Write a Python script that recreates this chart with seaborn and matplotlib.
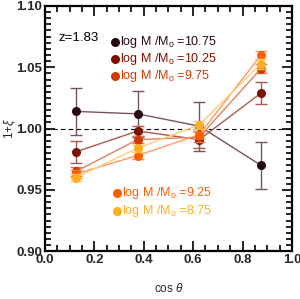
import numpy as np
import pandas as pd
import matplotlib
matplotlib.use("Agg")
import matplotlib.pyplot as plt
import seaborn as sns
from matplotlib.ticker import MultipleLocator, FormatStrFormatter

x = [0.125, 0.375, 0.625, 0.875]
labels = ["10.75", "10.25", "9.75", "9.25", "8.75"]
y_1075 = [1.014, 1.012, 1.002, 0.970]
e_1075 = [0.019, 0.019, 0.020, 0.019]
y_1025 = [0.981, 0.998, 0.991, 1.029]
e_1025 = [0.009, 0.004, 0.007, 0.009]
y_975 = [0.965, 0.991, 0.993, 1.049]
e_975 = [0.004, 0.003, 0.004, 0.004]
y_925 = [0.963, 0.978, 0.995, 1.060]
e_925 = [0.003, 0.003, 0.003, 0.003]
y_875 = [0.960, 0.984, 1.003, 1.053]
e_875 = [0.003, 0.003, 0.003, 0.004]
colors = ["#2a0810", "#7e1200", "#d13a00", "#ff5e00", "#ffad22"]
line_colors = ["#76545c", "#a85a4c", "#e08060", "#ff9a60", "#ffcc77"]

ys = [y_1075, y_1025, y_975, y_925, y_875]
es = [e_1075, e_1025, e_975, e_925, e_875]

rows = []
for lab, yv in zip(labels, ys):
    for xi, yi in zip(x, yv):
        rows.append({"cos": xi, "xi": yi, "mass": lab})
df = pd.DataFrame(rows)

sns.set_style("ticks")
plt.rcParams['font.family'] = ['Liberation Sans', 'DejaVu Sans']
plt.rcParams['mathtext.fontset'] = 'custom'
plt.rcParams['mathtext.rm'] = 'Liberation Sans'
plt.rcParams['mathtext.it'] = 'Liberation Sans:italic'

fig = plt.figure(figsize=(3.0, 2.99), dpi=100)
ax = fig.add_axes([0.15, 0.16, 0.823, 0.82])

ax.axhline(1.0, color="black", lw=0.8, ls=(0, (4, 3)), zorder=1)

for i, (lab, yv, ev) in enumerate(zip(labels, ys, es)):
    sub = df[df["mass"] == lab]
    ax.errorbar(x, yv, yerr=ev, fmt="none", ecolor=line_colors[i], elinewidth=1.0,
                capsize=4.5, capthick=1.0, zorder=2 + i)
    sns.lineplot(data=sub, x="cos", y="xi", ax=ax, color=line_colors[i], lw=1.0,
                 zorder=2 + i, legend=False)
    ax.plot(x, yv, "o", color=colors[i], ms=6.5, mec="none", zorder=2.5 + i)

ax.set_xlim(0, 1)
ax.set_ylim(0.90, 1.10)
ax.xaxis.set_major_locator(MultipleLocator(0.2))
ax.xaxis.set_minor_locator(MultipleLocator(0.05))
ax.yaxis.set_major_locator(MultipleLocator(0.05))
ax.yaxis.set_minor_locator(MultipleLocator(0.005))
ax.xaxis.set_major_formatter(FormatStrFormatter("%.1f"))
ax.yaxis.set_major_formatter(FormatStrFormatter("%.2f"))
ax.tick_params(which="both", direction="in", top=True, right=True, width=1.2, color="black")
ax.tick_params(which="major", length=7, labelsize=9.5, pad=2)
ax.tick_params(which="minor", length=4)
for lbl in ax.get_xticklabels() + ax.get_yticklabels():
    lbl.set_fontweight("bold")
for sp in ax.spines.values():
    sp.set_linewidth(1.6)
    sp.set_color("black")

ax.set_xlabel(r"cos $\theta$", fontsize=8.5)
ax.set_ylabel(r"1+$\xi$", fontsize=8.5)
ax.xaxis.set_label_coords(0.5, -0.125)
ax.yaxis.set_label_coords(-0.11, 0.5)

ax.text(0.053, 0.869, "z=1.83", transform=ax.transAxes, fontsize=9.5, color="black", va="center")

leg_pos = [(0.283, 0.853), (0.283, 0.784), (0.283, 0.714), (0.291, 0.237), (0.291, 0.163)]
for i, lab in enumerate(labels):
    px, py = leg_pos[i]
    ax.plot([px], [py], "o", color=colors[i], ms=6.5, mec="none", transform=ax.transAxes, clip_on=False)
    ax.text(px + 0.02, py, r"log M /M$_\mathrm{o}$ =" + lab, transform=ax.transAxes,
            fontsize=9, color=colors[i], va="center")

fig.savefig("out.png", dpi=100)
